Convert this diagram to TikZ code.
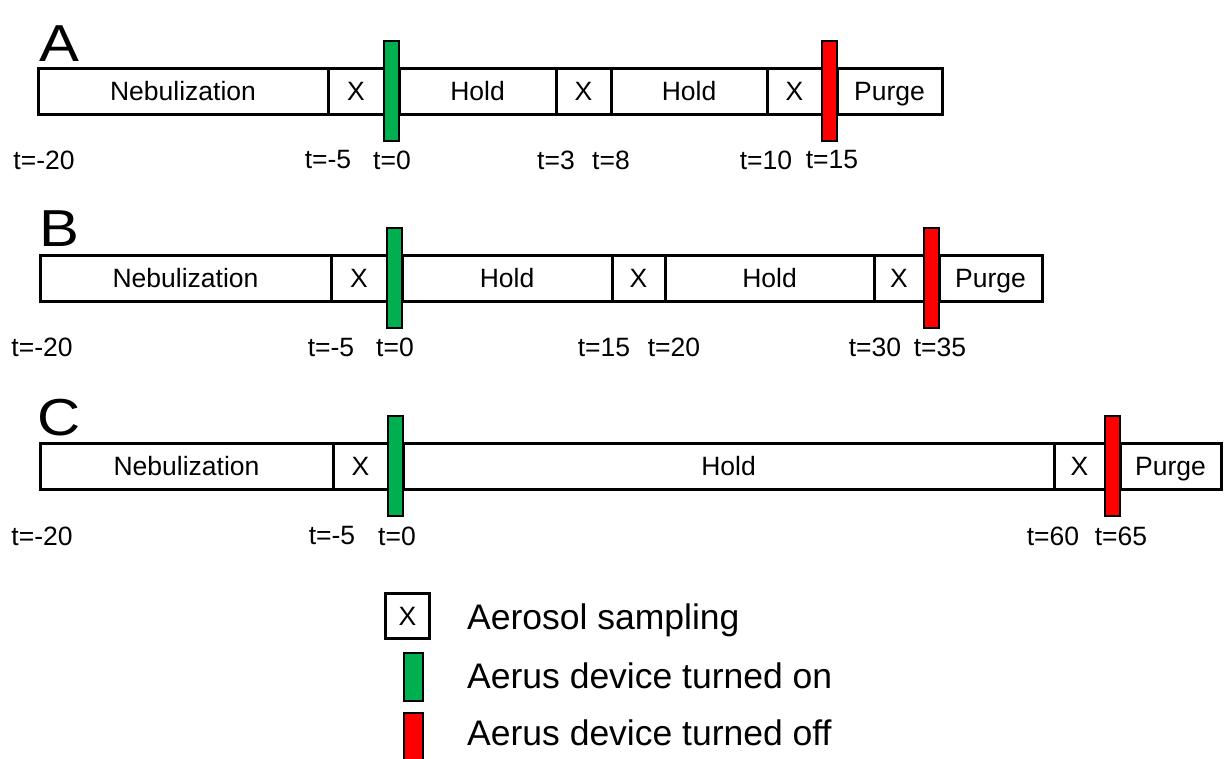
\documentclass[tikz,border=0pt]{standalone}
\usepackage{fontspec}
\setmainfont{Liberation Sans}
\usetikzlibrary{positioning}
\definecolor{ongreen}{RGB}{0,176,80}
\definecolor{offred}{RGB}{255,0,0}
\tikzstyle{segment} = [rectangle, draw=black, line width=3pt, minimum height=46pt, inner sep=0pt, outer sep=0pt, text height=19pt, text depth=0pt, text centered, font=\fontsize{26.5}{30}\selectfont]
\tikzstyle{onbar} = [rectangle, draw=black, line width=2pt, fill=ongreen, minimum width=15pt, minimum height=100pt, inner sep=0pt, outer sep=0pt]
\tikzstyle{offbar} = [onbar, fill=offred]
\tikzstyle{tlabel} = [inner sep=0pt, font=\fontsize{26.5}{30}\selectfont]
\tikzstyle{panel} = [inner sep=0pt, font=\fontsize{52}{60}\selectfont]
\tikzstyle{legendtext} = [anchor=base west, inner sep=0pt, font=\fontsize{35.5}{40}\selectfont]

\begin{document}
\begin{tikzpicture}[x=1pt, y=-1pt]
    \useasboundingbox (0,0) rectangle (1225,758);

        % Row A
        \node (apanel) [panel] at (59,43.5) {\scalebox{1.15}[1]{A}};
        \node (aneb) [segment, minimum width=290pt, anchor=west] at (38,91) {Nebulization};
        \node (ax1) [segment, minimum width=56pt, right=0pt of aneb] {X};
        \node (aon) [onbar, right=0pt of ax1] {};
        \node (ahold1) [segment, minimum width=157pt, right=0pt of aon] {Hold};
        \node (ax2) [segment, minimum width=55pt, right=0pt of ahold1] {X};
        \node (ahold2) [segment, minimum width=156pt, right=0pt of ax2] {Hold};
        \node (ax3) [segment, minimum width=55pt, right=0pt of ahold2] {X};
        \node (aoff) [offbar, right=0pt of ax3] {};
        \node (apurge) [segment, minimum width=105pt, right=0pt of aoff] {Purge};
        \node (at1) [tlabel] at (44,160) {t=-20};
        \node (at2) [tlabel] at (328,160) {t=-5};
        \node (at3) [tlabel] at (392,160) {t=0};
        \node (at4) [tlabel] at (556,160) {t=3};
        \node (at5) [tlabel] at (611,160) {t=8};
        \node (at6) [tlabel] at (766,160) {t=10};
        \node (at7) [tlabel] at (832,160) {t=15};

        % Row B
        \node (bpanel) [panel] at (59,229) {\scalebox{1.15}[1]{B}};
        \node (bneb) [segment, minimum width=291pt, anchor=west] at (40,278) {Nebulization};
        \node (bx1) [segment, minimum width=56pt, right=0pt of bneb] {X};
        \node (bon) [onbar, right=0pt of bx1] {};
        \node (bhold1) [segment, minimum width=210pt, right=0pt of bon] {Hold};
        \node (bx2) [segment, minimum width=53pt, right=0pt of bhold1] {X};
        \node (bhold2) [segment, minimum width=209pt, right=0pt of bx2] {Hold};
        \node (bx3) [segment, minimum width=50pt, right=0pt of bhold2] {X};
        \node (boff) [offbar, right=0pt of bx3] {};
        \node (bpurge) [segment, minimum width=103pt, right=0pt of boff] {Purge};
        \node (bt1) [tlabel] at (42,347.5) {t=-20};
        \node (bt2) [tlabel] at (331,347.5) {t=-5};
        \node (bt3) [tlabel] at (395,347.5) {t=0};
        \node (bt4) [tlabel] at (604,347.5) {t=15};
        \node (bt5) [tlabel] at (674,347.5) {t=20};
        \node (bt6) [tlabel] at (875,347.5) {t=30};
        \node (bt7) [tlabel] at (940,347.5) {t=35};

        % Row C
        \node (cpanel) [panel] at (59,418) {\scalebox{1.15}[1]{C}};
        \node (cneb) [segment, minimum width=293pt, anchor=west] at (40,466) {Nebulization};
        \node (cx1) [segment, minimum width=55pt, right=0pt of cneb] {X};
        \node (con) [onbar, right=0pt of cx1] {};
        \node (chold) [segment, minimum width=651pt, right=0pt of con] {Hold};
        \node (cx2) [segment, minimum width=51pt, right=0pt of chold] {X};
        \node (coff) [offbar, right=0pt of cx2] {};
        \node (cpurge) [segment, minimum width=101pt, right=0pt of coff] {Purge};
        \node (ct1) [tlabel] at (42,536) {t=-20};
        \node (ct2) [tlabel] at (332,536) {t=-5};
        \node (ct3) [tlabel] at (397,536) {t=0};
        \node (ct4) [tlabel] at (1053,536) {t=60};
        \node (ct5) [tlabel] at (1121,536) {t=65};

        % Legend
        \node (legx) [segment, minimum width=44pt, minimum height=45pt] at (407.5,616) {X};
        \node (legon) [onbar, minimum width=19pt, minimum height=48pt] at (413.5,677) {};
        \node (legoff) [offbar, minimum width=19pt, minimum height=50pt] at (413.5,738) {};
        \node (legxtext) [legendtext] at (467,629) {Aerosol sampling};
        \node (legontext) [legendtext] at (467,688) {Aerus device turned on};
        \node (legofftext) [legendtext] at (467,745) {Aerus device turned off};

    \end{tikzpicture}
\end{document}
